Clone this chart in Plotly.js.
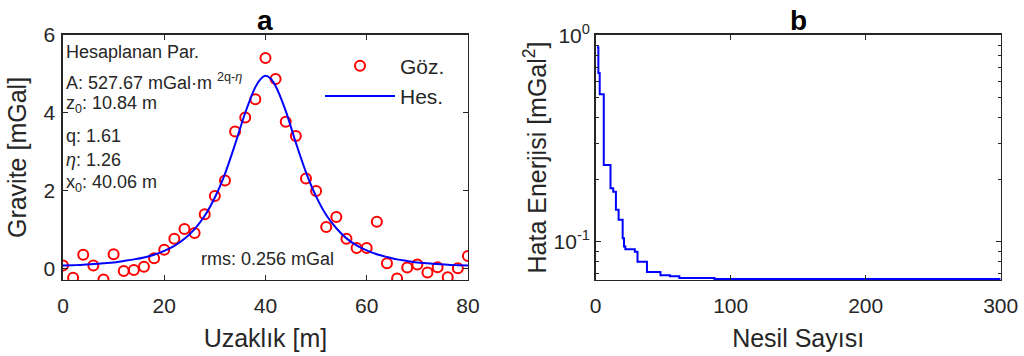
<!DOCTYPE html>
<html>
<head>
<meta charset="utf-8">
<script src="https://cdn.plot.ly/plotly-3.0.1.min.js"></script>
<style>html,body{margin:0;padding:0;background:#fff}#chart{width:1024px;height:356px}</style>
</head>
<body>
<div id="chart"></div>
<script>
// ---- Panel a: observed gravity (Göz.) ----
var obsX = [0,2,4,6,8,10,12,14,16,18,20,22,24,26,28,30,32,34,36,38,40,42,44,46,48,50,52,54,56,58,60,62,64,66,68,70,72,74,76,78,80];
var obsY = [0.07,-0.24,0.35,0.07,-0.29,0.36,-0.07,-0.04,0.04,0.26,0.48,0.76,1.01,0.91,1.39,1.86,2.26,3.52,3.88,4.35,5.41,4.87,3.77,3.40,2.31,1.99,1.06,1.32,0.76,0.52,0.52,1.20,0.13,-0.26,0.02,0.10,-0.11,0.03,-0.23,0.00,0.32];
// ---- Panel a: computed curve (Hes.) ----
var calcX = [0,2,4,6,8,10,12,14,16,18,20,22,24,26,28,30,32,34,36,38,39,40,41,42,44,46,48,50,52,54,56,58,60,62,64,66,68,70,72,74,76,78,80];
var calcY = [0.07,0.08,0.09,0.11,0.13,0.15,0.19,0.23,0.28,0.35,0.45,0.58,0.76,1.01,1.35,1.82,2.43,3.19,4.00,4.66,4.86,4.95,4.88,4.69,4.05,3.23,2.47,1.85,1.37,1.03,0.77,0.59,0.46,0.36,0.29,0.23,0.19,0.15,0.13,0.11,0.09,0.08,0.07];
// ---- Panel b: error energy vs generation ----
var genX = [1,2,3,6,11,13,15,17,20,21,22,29,31,38,48,55,62,88,300];
var errY = [0.88,0.66,0.52,0.236,0.182,0.175,0.143,0.128,0.104,0.095,0.092,0.0895,0.080,0.0715,0.0689,0.0681,0.0668,0.0661,0.0661];
// ---- Tick labels ----
var aXTicks = [0,20,40,60,80];
var aYTicks = [0,2,4,6];
var bXTicks = [0,100,200,300];
var bYTickVals = [1,0.1];
var bYTickText = ['10<sup>0</sup>','10<sup>-1</sup>'];
var bYMinor = [0.07,0.08,0.09,0.2,0.3,0.4,0.5,0.6,0.7,0.8,0.9];
// ---- Texts ----
var paramLines = [
  'Hesaplanan Par.',
  'A: 527.67 mGal·m <sup>2q-<i>η</i></sup>',
  'z<sub>0</sub>: 10.84 m',
  'q: 1.61',
  '<i>η</i>: 1.26',
  'x<sub>0</sub>: 40.06 m'
];
var rmsText = 'rms: 0.256 mGal';

var FONT = '"Liberation Sans", Arial, Helvetica, sans-serif';
var INK = '#262626';

var traces = [
  {x: obsX, y: obsY, type: 'scatter', mode: 'markers', name: 'Göz.', xaxis: 'x', yaxis: 'y',
   marker: {symbol: 'circle-open', size: 10, color: '#ff0000', line: {width: 2, color: '#ff0000'}}},
  {x: calcX, y: calcY, type: 'scatter', mode: 'lines', name: 'Hes.', xaxis: 'x', yaxis: 'y',
   line: {color: '#0000ff', width: 2, shape: 'spline', smoothing: 0.8}},
  {x: genX, y: errY, type: 'scatter', mode: 'lines', name: 'err', xaxis: 'x2', yaxis: 'y2', showlegend: false,
   line: {color: '#0000ff', width: 2, shape: 'hv'}}
];

function axisBase() {
  return {
    showline: true, linecolor: INK, linewidth: 1.5, mirror: 'ticks',
    ticks: 'inside', ticklen: 5, tickwidth: 1.2, tickcolor: INK,
    showgrid: false, zeroline: false,
    tickfont: {family: FONT, size: 21, color: INK},
    automargin: false
  };
}

var xa = Object.assign(axisBase(), {domain: [0.0615, 0.457], range: [0, 80], tickmode: 'array', tickvals: aXTicks,
  ticklabelstandoff: 6,
  title: {text: 'Uzaklık [m]', font: {family: FONT, size: 25, color: INK}, standoff: 14}});
var ya = Object.assign(axisBase(), {domain: [0.2135, 0.9017], range: [-0.3, 6], tickmode: 'array', tickvals: aYTicks,
  ticklabelstandoff: 2,
  title: {text: 'Gravite [mGal]', font: {family: FONT, size: 25, color: INK}, standoff: 10}});
var xb = Object.assign(axisBase(), {domain: [0.5817, 0.9772], range: [0, 300], tickmode: 'array', tickvals: bXTicks, anchor: 'y2',
  ticklabelstandoff: 6,
  title: {text: 'Nesil Sayısı', font: {family: FONT, size: 25, color: INK}, standoff: 14}});
var yb = Object.assign(axisBase(), {domain: [0.2135, 0.9017], type: 'log', range: [-1.185, 0.004], anchor: 'x2',
  tickmode: 'array', tickvals: bYTickVals, ticktext: bYTickText,
  minor: {tickmode: 'array', tickvals: bYMinor, ticks: 'inside', ticklen: 3, tickwidth: 1.2, tickcolor: INK, showgrid: false},
  title: {text: 'Hata Enerjisi [mGal<sup>2</sup>]', font: {family: FONT, size: 25, color: INK}, standoff: 0}});

var paramY = [0.93, 0.81, 0.718, 0.588, 0.49, 0.395];
var annotations = [
  {text: '<b>a</b>', xref: 'x domain', yref: 'y domain', x: 0.5, y: 1, xanchor: 'center', yanchor: 'bottom', showarrow: false,
   yshift: -3, font: {family: FONT, size: 28, color: '#000'}},
  {text: '<b>b</b>', xref: 'x2 domain', yref: 'y2 domain', x: 0.5, y: 1, xanchor: 'center', yanchor: 'bottom', showarrow: false,
   yshift: -3, font: {family: FONT, size: 28, color: '#000'}},
  {text: rmsText, xref: 'x domain', yref: 'y domain', x: 0.336, y: 0.086, xanchor: 'left', yanchor: 'middle', showarrow: false,
   font: {family: FONT, size: 18, color: INK}}
];
paramLines.forEach(function (t, i) {
  annotations.push({text: t, xref: 'x domain', yref: 'y domain', x: 0.003, y: paramY[i], xanchor: 'left', yanchor: 'middle',
    showarrow: false, font: {family: FONT, size: 18, color: INK}});
});

var layout = {
  width: 1024, height: 356,
  margin: {l: 0, r: 0, t: 0, b: 0},
  paper_bgcolor: '#fff', plot_bgcolor: '#fff',
  font: {family: FONT, color: INK},
  xaxis: xa, yaxis: ya, xaxis2: xb, yaxis2: yb,
  showlegend: true,
  legend: {x: 0.3125, y: 0.872, xref: 'paper', yref: 'paper', xanchor: 'left', yanchor: 'top', itemwidth: 70,
    bgcolor: 'rgba(0,0,0,0)', borderwidth: 0, font: {family: FONT, size: 21, color: INK}, tracegroupgap: 0},
  annotations: annotations
};

Plotly.newPlot('chart', traces, layout, {displayModeBar: false, staticPlot: true});
</script>
</body>
</html>
